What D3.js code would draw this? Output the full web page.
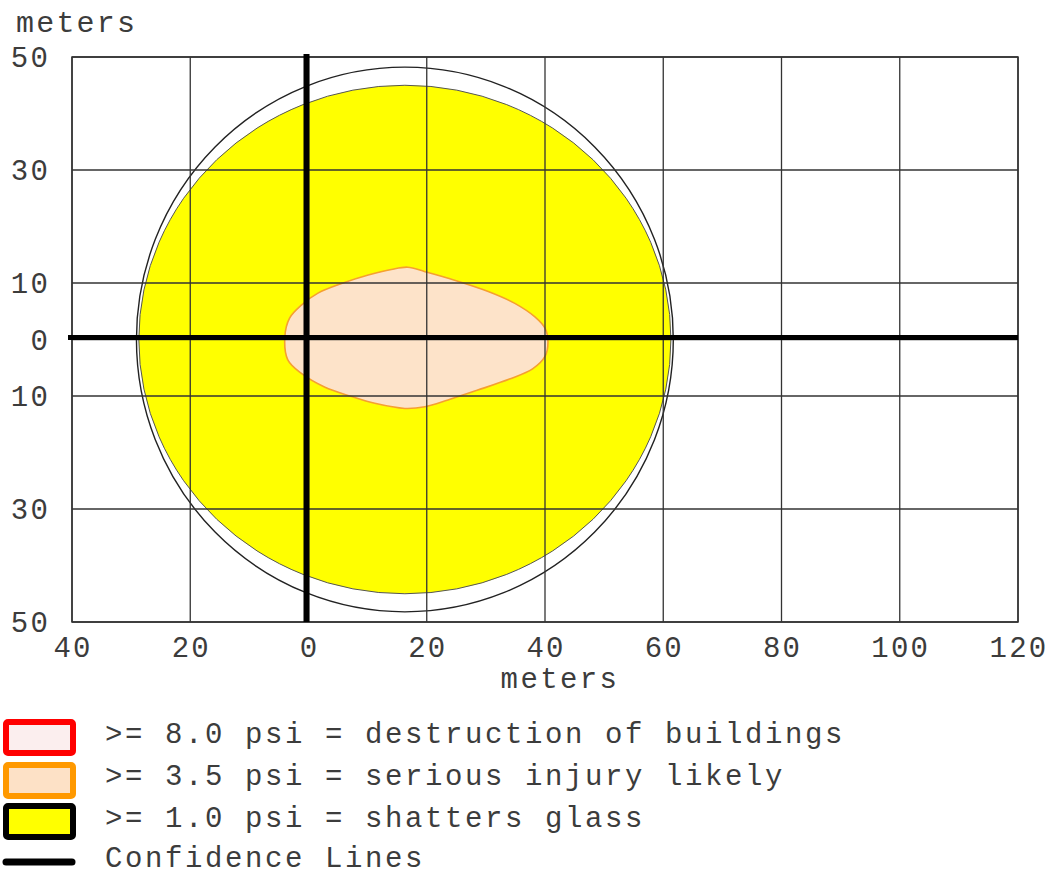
<!DOCTYPE html>
<html>
<head>
<meta charset="utf-8">
<script src="https://cdn.jsdelivr.net/npm/d3@7"></script>
<style>
  body { margin: 0; background: #fff; }
  svg text { font-family: "Liberation Mono", "DejaVu Sans Mono", monospace; fill: #3c3c3c; }
</style>
</head>
<body>
<div id="okvir"></div>
<script>
// podatci ocitani sa slike (metri)
const xTicks = [-40, -20, 0, 20, 40, 60, 80, 100, 120];
const yTicks = [50, 30, 10, 0, -10, -30, -50];

// zuta zona >= 1.0 psi (centar, radijus x/y)
const shatterCenter = [16.3, 0];
const shatterRadius = [45, 45];

// linija pouzdanosti oko zute zone
const confidenceCenter = [16.3, 0];
const confidenceRadius = [45.4, 48.2];

// narancasta zona >= 3.5 psi (obris)
const injuryX = [-4.0, -3.2, -1.2, 1.6, 5.6, 10.1, 14.0, 16.8, 19.7, 24.7, 30.4, 34.9, 38.3, 40.0, 40.5,
                 40.0, 37.9, 34.0, 28.5, 23.6, 19.7, 16.3, 11.2, 7.3, 2.7, -1.2, -3.5];
const injuryY = [0.5, 3.8, 6.1, 8.2, 9.9, 11.4, 12.4, 12.8, 12.0, 10.5, 8.5, 6.4, 4.0, 2.0, -0.4,
                 -3.0, -5.2, -7.0, -9.0, -10.7, -11.9, -12.2, -11.3, -10.1, -8.4, -6.0, -3.6];

const legendLabels = [">= 8.0 psi = destruction of buildings", ">= 3.5 psi = serious injury likely",
                      ">= 1.0 psi = shatters glass", "Confidence Lines"];
const legendStroke = ["#ff0000", "#ff9900", "#000000"];
const legendFill = ["#fbeeee", "#fde1c6", "#ffff00"];

const dimenzije = {
  width: 1052,
  height: 875,
  margin: { top: 57, right: 34, bottom: 253, left: 72 }
};
dimenzije.boundsWidth = dimenzije.width - dimenzije.margin.left - dimenzije.margin.right;
dimenzije.boundsHeight = dimenzije.height - dimenzije.margin.top - dimenzije.margin.bottom;

const okvir = d3.select("#okvir")
  .append("svg")
    .attr("width", dimenzije.width)
    .attr("height", dimenzije.height);

okvir.append("rect").attr("width", dimenzije.width).attr("height", dimenzije.height).attr("fill", "#fff");

const granice = okvir.append("g")
  .attr("transform", `translate(${dimenzije.margin.left},${dimenzije.margin.top})`);

const xMjerilo = d3.scaleLinear().domain([-40, 120]).range([0, dimenzije.boundsWidth]);
const yMjerilo = d3.scaleLinear().domain([-50, 50]).range([dimenzije.boundsHeight, 0]);

// linija pouzdanosti
granice.append("ellipse")
  .attr("cx", xMjerilo(confidenceCenter[0]))
  .attr("cy", yMjerilo(confidenceCenter[1]))
  .attr("rx", xMjerilo(confidenceCenter[0] + confidenceRadius[0]) - xMjerilo(confidenceCenter[0]))
  .attr("ry", yMjerilo(confidenceCenter[1]) - yMjerilo(confidenceCenter[1] + confidenceRadius[1]))
  .attr("fill", "none")
  .attr("stroke", "#222")
  .attr("stroke-width", 1.4);

// zuta zona
granice.append("ellipse")
  .attr("cx", xMjerilo(shatterCenter[0]))
  .attr("cy", yMjerilo(shatterCenter[1]))
  .attr("rx", xMjerilo(shatterCenter[0] + shatterRadius[0]) - xMjerilo(shatterCenter[0]))
  .attr("ry", yMjerilo(shatterCenter[1]) - yMjerilo(shatterCenter[1] + shatterRadius[1]))
  .attr("fill", "#ffff00")
  .attr("stroke", "#555")
  .attr("stroke-width", 1);

// narancasta zona
const tocke = injuryX.map((x, i) => [x, injuryY[i]]);
const generatorObrisa = d3.line()
  .x(d => xMjerilo(d[0]))
  .y(d => yMjerilo(d[1]))
  .curve(d3.curveCatmullRomClosed.alpha(0.5));

granice.append("path")
  .attr("d", generatorObrisa(tocke))
  .attr("fill", "#fde3c9")
  .attr("stroke", "#f5a030")
  .attr("stroke-width", 1.6);

// mreza (preko zona)
granice.append("g").selectAll("line")
  .data(xTicks)
  .join("line")
    .attr("x1", d => xMjerilo(d)).attr("x2", d => xMjerilo(d))
    .attr("y1", 0).attr("y2", dimenzije.boundsHeight)
    .attr("stroke", "#333").attr("stroke-width", 1.3);
granice.append("g").selectAll("line")
  .data(yTicks)
  .join("line")
    .attr("x1", 0).attr("x2", dimenzije.boundsWidth)
    .attr("y1", d => yMjerilo(d)).attr("y2", d => yMjerilo(d))
    .attr("stroke", "#333").attr("stroke-width", 1.3);

// okvir
granice.append("rect")
  .attr("width", dimenzije.boundsWidth)
  .attr("height", dimenzije.boundsHeight)
  .attr("fill", "none")
  .attr("stroke", "#333")
  .attr("stroke-width", 1.5);

// osi pouzdanosti (debele crne)
granice.append("line")
  .attr("x1", -4).attr("x2", dimenzije.boundsWidth)
  .attr("y1", yMjerilo(0) - 2).attr("y2", yMjerilo(0) - 2)
  .attr("stroke", "#000").attr("stroke-width", 5);
granice.append("line")
  .attr("x1", xMjerilo(0) - 2).attr("x2", xMjerilo(0) - 2)
  .attr("y1", -3).attr("y2", dimenzije.boundsHeight)
  .attr("stroke", "#000").attr("stroke-width", 6);

// oznake osi
granice.append("g").selectAll("text")
  .data(yTicks)
  .join("text")
    .attr("x", -22)
    .attr("y", d => yMjerilo(d))
    .attr("dy", "0.36em")
    .attr("text-anchor", "end")
    .style("font-size", "29px")
    .style("letter-spacing", "2.2px")
    .text(d => Math.abs(d));

granice.append("g").selectAll("text")
  .data(xTicks)
  .join("text")
    .attr("x", d => xMjerilo(d) + 1)
    .attr("y", dimenzije.boundsHeight + 35)
    .attr("text-anchor", "middle")
    .style("font-size", "29px")
    .style("letter-spacing", "2.2px")
    .text(d => Math.abs(d));

okvir.append("text")
  .attr("x", 560).attr("y", 688)
  .attr("text-anchor", "middle")
  .style("font-size", "29px")
  .style("letter-spacing", "2.4px")
  .text("meters");

okvir.append("text")
  .attr("x", 16).attr("y", 32)
  .style("font-size", "30px")
  .style("letter-spacing", "2.2px")
  .text("meters");

// legenda
const legenda = okvir.append("g");
const redY = [722, 765, 806];
legenda.selectAll("rect")
  .data(legendStroke)
  .join("rect")
    .attr("x", 6).attr("y", (d, i) => redY[i])
    .attr("width", 67).attr("height", 31)
    .attr("rx", 2)
    .attr("fill", (d, i) => legendFill[i])
    .attr("stroke", d => d)
    .attr("stroke-width", 6);

legenda.append("line")
  .attr("x1", 6).attr("x2", 72)
  .attr("y1", 862).attr("y2", 862)
  .attr("stroke", "#000").attr("stroke-width", 7)
  .attr("stroke-linecap", "round");

const baseY = [743, 785, 827, 867];
legenda.selectAll("text")
  .data(legendLabels)
  .join("text")
    .attr("x", 105)
    .attr("y", (d, i) => baseY[i])
    .style("font-size", "29px")
    .style("letter-spacing", "2.6px")
    .text(d => d);
</script>
</body>
</html>
